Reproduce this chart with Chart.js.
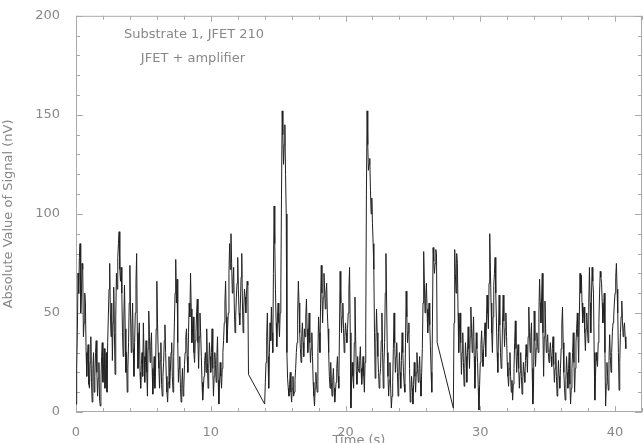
<!DOCTYPE html>
<html>
<head>
<meta charset="utf-8">
<script src="https://cdn.jsdelivr.net/npm/chart.js@4"></script>
<style>
  html, body { margin: 0; padding: 0; background: #fff; }
  #wrap { width: 644px; height: 443px; position: relative; }
</style>
</head>
<body>
<div id="wrap"><canvas id="signalChart"></canvas></div>
<script>
// three recording runs, sampled every 0.05 s
const segmentStarts = [0, 14, 28];
const sampleStep = 0.05;

const run1Values = [
  4, 22, 40, 70, 60, 78, 85, 50, 58, 75, 72, 38, 45, 60, 55, 30, 18, 28, 34, 14,
  12, 25, 38, 15, 5, 22, 30, 10, 18, 30, 36, 20, 8, 17, 25, 6, 3, 15, 28, 35,
  15, 24, 32, 12, 20, 30, 10, 35, 48, 62, 75, 50, 38, 55, 26, 45, 63, 40, 19, 48,
  70, 62, 78, 85, 91, 72, 66, 73, 60, 40, 28, 48, 64, 42, 20, 30, 10, 22, 35, 55,
  74, 48, 30, 42, 55, 32, 18, 35, 50, 66, 80, 40, 22, 38, 45, 20, 12, 24, 30, 18,
  45, 28, 15, 25, 36, 20, 8, 32, 51, 38, 25, 33, 40, 22, 9, 18, 28, 12, 20, 42,
  66, 45, 30, 22, 12, 26, 35, 14, 8, 18, 25, 36, 44, 30, 18, 10, 5, 15, 28, 12,
  20, 30, 35, 18, 10, 28, 45, 60, 77, 55, 67, 35, 15, 22, 28, 12, 5, 14, 22, 8,
  12, 24, 30, 38, 42, 28, 20, 40, 55, 48, 70, 52, 35, 42, 48, 30, 25, 36, 40, 50,
  57, 35, 22, 38, 50, 40, 28, 15, 6, 12, 18, 26, 30, 20, 42, 25, 12, 22, 35, 28,
  20, 30, 42, 22, 8, 18, 30, 24, 15, 28, 38, 16, 4, 14, 25, 18, 12, 22, 30, 36,
  45, 55, 66, 48, 35, 42, 50, 70, 85, 72, 90, 75, 60, 66, 73, 52, 40, 48, 58, 65,
  78, 62, 50, 44, 55, 68, 80, 55, 40, 52, 62, 58, 50, 60, 66, 64, 19
];

const run2Values = [
  4, 15, 25, 38, 50, 28, 12, 30, 45, 36, 53, 40, 30, 70, 104, 85, 62, 45, 33, 48,
  55, 45, 38, 50, 62, 110, 152, 140, 125, 135, 145, 120, 100, 30, 17, 12, 8, 14, 20, 10,
  5, 12, 18, 8, 10, 16, 22, 30, 35, 50, 66, 55, 40, 32, 25, 38, 45, 35, 28, 42,
  38, 48, 57, 42, 30, 38, 50, 35, 25, 32, 40, 28, 15, 8, 3, 12, 20, 14, 10, 30,
  48, 40, 30, 55, 74, 60, 45, 58, 70, 62, 52, 60, 65, 50, 42, 30, 18, 12, 25, 15,
  8, 16, 22, 12, 5, 10, 15, 22, 28, 18, 12, 40, 71, 55, 40, 48, 55, 42, 30, 38,
  45, 40, 35, 42, 50, 62, 73, 40, 2, 15, 25, 18, 12, 35, 58, 38, 20, 14, 28, 22,
  20, 26, 33, 22, 14, 20, 28, 18, 10, 25, 40, 110, 152, 135, 122, 125, 128, 112, 100, 108,
  95, 85, 72, 40, 17, 35, 52, 40, 28, 20, 12, 18, 22, 36, 50, 30, 12, 24, 35, 60,
  80, 55, 30, 18, 8, 16, 25, 12, 2, 8, 15, 32, 50, 35, 20, 28, 35, 20, 8, 18,
  30, 20, 12, 26, 40, 30, 20, 14, 10, 35, 61, 48, 35, 40, 45, 22, 5, 10, 18, 12,
  4, 14, 25, 18, 10, 20, 30, 22, 15, 22, 28, 16, 8, 20, 32, 55, 81, 65, 50, 58,
  65, 52, 40, 48, 55, 44, 33, 20, 10, 45, 83, 76, 70, 75, 82, 80, 35
];

const run3Values = [
  2, 45, 82, 70, 60, 80, 75, 50, 30, 42, 50, 35, 19, 30, 40, 25, 13, 22, 35, 28,
  15, 30, 43, 32, 22, 38, 53, 42, 30, 38, 48, 28, 12, 25, 40, 32, 25, 12, 1, 14,
  25, 34, 41, 30, 23, 32, 38, 45, 28, 44, 59, 50, 42, 65, 90, 72, 55, 40, 30, 48,
  64, 70, 78, 60, 45, 30, 20, 40, 59, 44, 30, 22, 25, 45, 59, 46, 33, 42, 50, 38,
  25, 18, 13, 22, 30, 18, 10, 16, 6, 14, 22, 35, 46, 32, 20, 28, 34, 22, 12, 20,
  30, 18, 9, 16, 25, 20, 15, 26, 34, 28, 20, 38, 53, 40, 30, 38, 45, 22, 4, 12,
  51, 36, 23, 32, 40, 35, 30, 50, 67, 55, 45, 58, 70, 40, 18, 38, 56, 42, 30, 35,
  39, 30, 25, 30, 35, 28, 23, 32, 38, 24, 15, 22, 30, 18, 8, 16, 26, 18, 12, 22,
  32, 44, 53, 35, 20, 12, 6, 16, 28, 20, 12, 22, 30, 14, 4, 12, 22, 30, 40, 25,
  10, 22, 35, 42, 50, 38, 25, 48, 70, 60, 69, 55, 45, 50, 53, 40, 31, 42, 50, 42,
  35, 55, 73, 55, 40, 58, 73, 66, 60, 30, 6, 18, 30, 26, 23, 35, 45, 60, 71, 68,
  65, 55, 45, 52, 60, 30, 3, 14, 25, 18, 11, 26, 39, 28, 20, 30, 40, 45, 48, 55,
  60, 68, 75, 62, 50, 30, 11, 25, 40, 48, 56, 46, 38, 42, 45, 38, 32
];

const xTickValues = [0, 10, 20, 30, 40];
const yTickValues = [0, 50, 100, 150, 200];
const noteLines = ['Substrate 1, JFET 210', 'JFET + amplifier'];

const runs = [run1Values, run2Values, run3Values];
const points = [];
runs.forEach((vals, r) => {
  vals.forEach((v, i) => {
    points.push({ x: +(segmentStarts[r] + i * sampleStep).toFixed(2), y: v });
  });
});

const axisGray = '#aaa';
const textGray = '#888';
const fontFamily = '"DejaVu Sans", sans-serif';

// box around the plot with inward ticks on all four sides, plus the notes
const framePlugin = {
  id: 'frame',
  beforeDatasetsDraw(chart) {
    const { ctx, chartArea: a, scales: { x, y } } = chart;
    ctx.save();
    ctx.strokeStyle = axisGray;
    ctx.lineWidth = 1;
    ctx.strokeRect(a.left + 0.5, a.top + 0.5, a.right - a.left - 1, a.bottom - a.top - 1);
    ctx.beginPath();
    for (let v = 0; v <= x.max; v += 2) {
      const px = Math.round(x.getPixelForValue(v)) + 0.5;
      const len = v % 10 === 0 ? 6 : 4;
      ctx.moveTo(px, a.bottom); ctx.lineTo(px, a.bottom - len);
      ctx.moveTo(px, a.top); ctx.lineTo(px, a.top + len);
    }
    for (let v = 0; v <= y.max; v += 10) {
      const py = Math.round(y.getPixelForValue(v)) + 0.5;
      const len = v % 50 === 0 ? 7 : 4;
      ctx.moveTo(a.left, py); ctx.lineTo(a.left + len, py);
      ctx.moveTo(a.right, py); ctx.lineTo(a.right - len, py);
    }
    ctx.stroke();

    ctx.fillStyle = textGray;
    ctx.font = '13px ' + fontFamily;
    ctx.textAlign = 'center';
    ctx.textBaseline = 'middle';
    ctx.fillText(noteLines[0], 194, 35);
    ctx.fillText(noteLines[1], 193, 59);
    ctx.textBaseline = 'top';
    ctx.fillText('Time (s)', (a.left + a.right) / 2, 434);
    ctx.restore();
  }
};

new Chart(document.getElementById('signalChart'), {
  type: 'line',
  data: {
    datasets: [{
      data: points,
      borderColor: '#222',
      borderWidth: 1,
      pointRadius: 0,
      tension: 0,
      fill: false
    }]
  },
  options: {
    responsive: true,
    maintainAspectRatio: false,
    animation: false,
    layout: { padding: { top: 12, right: 2, left: 0, bottom: 0 } },
    scales: {
      x: {
        type: 'linear',
        min: 0,
        max: 42,
        afterBuildTicks: s => { s.ticks = xTickValues.map(v => ({ value: v })); },
        afterFit: s => { s.height = 31; },
        grid: { display: false },
        border: { display: false },
        ticks: {
          color: textGray,
          font: { family: fontFamily, size: 13 },
          padding: 5,
          maxRotation: 0,
          autoSkip: false
        }
      },
      y: {
        min: 0,
        max: 200,
        afterBuildTicks: s => { s.ticks = yTickValues.map(v => ({ value: v })); },
        afterFit: s => { s.width = 76; },
        grid: { display: false },
        border: { display: false },
        title: {
          display: true,
          text: 'Absolute Value of Signal (nV)',
          color: textGray,
          font: { family: fontFamily, size: 13 },
          padding: { top: 1, bottom: 0 }
        },
        ticks: {
          color: textGray,
          font: { family: fontFamily, size: 13 },
          padding: 8
        }
      }
    },
    plugins: {
      legend: { display: false },
      tooltip: { enabled: false }
    }
  },
  plugins: [framePlugin]
});
</script>
</body>
</html>
